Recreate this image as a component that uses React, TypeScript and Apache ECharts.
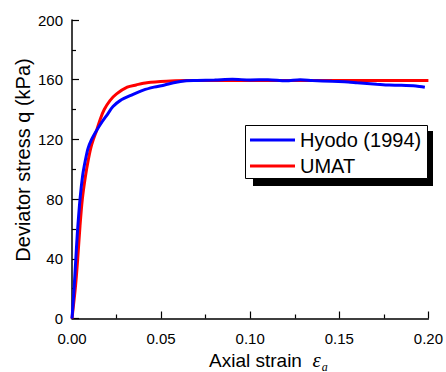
import React, { useEffect, useRef } from "react";
import * as echarts from "echarts";

const hyodoStrain = [0, 0.001, 0.002, 0.003, 0.0045, 0.006, 0.0075, 0.009, 0.011, 0.0138, 0.017, 0.02, 0.023, 0.027, 0.034, 0.04, 0.046, 0.052, 0.057, 0.064, 0.07, 0.08, 0.09, 0.1, 0.11, 0.12, 0.128, 0.135, 0.146, 0.155, 0.16, 0.171, 0.178, 0.184, 0.193, 0.198];
const hyodoQ = [0, 17, 37, 57, 80, 96, 106, 114, 120, 126, 132, 137, 142, 146, 150, 153, 155, 156.5, 158, 159.3, 159.5, 159.8, 160.3, 159.8, 160, 159.3, 160, 159.5, 158.9, 158.5, 158, 157, 156.4, 156.3, 155.8, 154.9];

const umatStrain = [0, 0.002, 0.0032, 0.0045, 0.0058, 0.0075, 0.0091, 0.0105, 0.012, 0.0138, 0.016, 0.0181, 0.0213, 0.025, 0.031, 0.036, 0.042, 0.053, 0.065, 0.08, 0.2];
const umatQ = [0, 22, 40, 62, 80, 95, 106, 114, 120, 126, 134, 140, 146, 150.5, 155, 156.5, 158, 159, 159.4, 159.5, 159.5];

const seriesNames = ["Hyodo (1994)", "UMAT"];
const xTicks = { min: 0, max: 0.2, interval: 0.05 };
const yTicks = { min: 0, max: 200, interval: 40 };

const FONT = "'Liberation Sans', Arial, sans-serif";
const SERIF = "'Liberation Serif', 'Times New Roman', serif";

export default function App() {
  const ref = useRef<HTMLDivElement>(null);
  useEffect(() => {
    document.body.style.margin = "0";
    const chart = echarts.init(ref.current!, null, { renderer: "svg" });
    const hyodo = hyodoStrain.map((s, i) => [s, hyodoQ[i]]);
    const umat = umatStrain.map((s, i) => [s, umatQ[i]]);
    chart.setOption({
      animation: false,
      backgroundColor: "#fff",
      grid: { left: 72, top: 20, right: 17, bottom: 53.5, containLabel: false },
      xAxis: {
        type: "value",
        min: xTicks.min,
        max: xTicks.max,
        interval: xTicks.interval,
        axisLine: { show: true, onZero: false, lineStyle: { color: "#000", width: 1.5 } },
        axisTick: { show: true, inside: true, length: 7, lineStyle: { color: "#000", width: 1.2 } },
        minorTick: { show: true, splitNumber: 2, length: 4, lineStyle: { color: "#000", width: 1.2 } },
        splitLine: { show: false },
        axisLabel: {
          margin: 12,
          fontSize: 15,
          color: "#000",
          fontFamily: FONT,
          formatter: (v: number) => v.toFixed(2),
        },
      },
      yAxis: {
        type: "value",
        min: yTicks.min,
        max: yTicks.max,
        interval: yTicks.interval,
        axisLine: { show: true, onZero: false, lineStyle: { color: "#000", width: 1.5 } },
        axisTick: { show: true, inside: true, length: 7, lineStyle: { color: "#000", width: 1.2 } },
        minorTick: { show: true, splitNumber: 2, length: 4, lineStyle: { color: "#000", width: 1.2 } },
        splitLine: { show: false },
        axisLabel: { margin: 9, fontSize: 15, color: "#000", fontFamily: FONT },
      },
      legend: {
        data: seriesNames,
        orient: "vertical",
        left: 250,
        top: 130,
        itemWidth: 45,
        itemHeight: 3,
        itemGap: 6,
        icon: "rect",
        padding: 0,
        textStyle: { fontSize: 20, color: "#000", fontFamily: FONT, padding: [0, 0, 0, 0] },
        z: 10,
      },
      graphic: [
        { type: "rect", z: 5, shape: { x: 253, y: 131, width: 180, height: 55 }, style: { fill: "#000" } },
        { type: "rect", z: 6, shape: { x: 245.5, y: 125.5, width: 182, height: 53 }, style: { fill: "#fff", stroke: "#000", lineWidth: 1 } },
        {
          type: "text",
          x: 209,
          y: 360,
          style: {
            text: "{n|Axial strain  }{e|ε}{s|a}",
            verticalAlign: "middle",
            rich: {
              n: { fontSize: 19, fontFamily: FONT, fill: "#000" },
              e: { fontSize: 21, fontFamily: SERIF, fontStyle: "italic", fill: "#000" },
              s: { fontSize: 12, fontFamily: SERIF, fontStyle: "italic", fill: "#000", padding: [13, 0, 0, 1] },
            },
          },
        },
        {
          type: "text",
          x: 22.5,
          y: 160,
          rotation: Math.PI / 2,
          style: {
            text: "Deviator stress q (kPa)",
            fontSize: 20,
            fontFamily: FONT,
            fill: "#000",
            align: "center",
            verticalAlign: "middle",
          },
        },
      ],
      series: [
        {
          name: seriesNames[1],
          type: "line",
          data: umat,
          showSymbol: false,
          smooth: 0.3,
          lineStyle: { color: "#ff0000", width: 3 },
          itemStyle: { color: "#ff0000" },
        },
        {
          name: seriesNames[0],
          type: "line",
          data: hyodo,
          showSymbol: false,
          smooth: 0.3,
          lineStyle: { color: "#0000ff", width: 3 },
          itemStyle: { color: "#0000ff" },
        },
      ],
    });
    return () => chart.dispose();
  }, []);
  return <div ref={ref} style={{ width: 446, height: 372 }} />;
}
